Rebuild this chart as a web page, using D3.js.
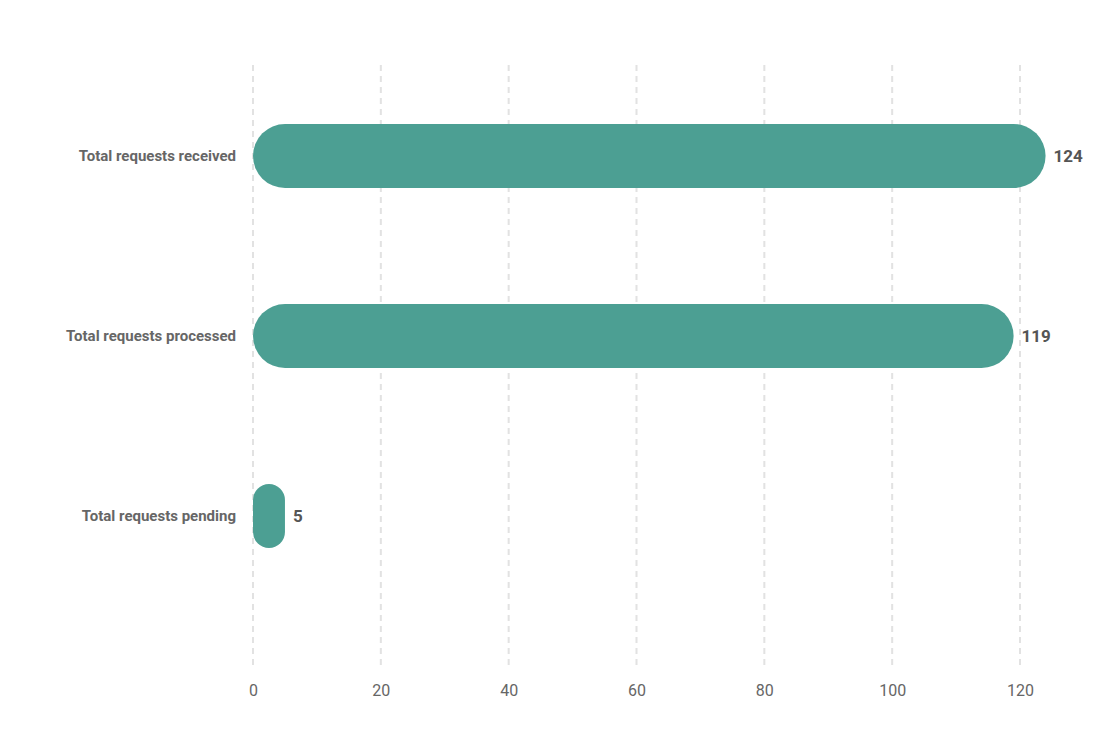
<!DOCTYPE html>
<html>
<head>
<meta charset="utf-8">
<script src="https://cdn.jsdelivr.net/npm/d3@7"></script>
<style>
  body { margin: 0; background: #fff; font-family: Roboto, sans-serif; }
</style>
</head>
<body>
<div id="chart"></div>
<script>
const categories = ["Total requests received", "Total requests processed", "Total requests pending"];
const values = [124, 119, 5];
const ticks = [0, 20, 40, 60, 80, 100, 120];

const width = 1117, height = 740;
const plotLeft = 253, plotRight = 1020, plotTop = 66, gridBottom = 665;

const svg = d3.select("#chart").append("svg")
    .attr("width", width)
    .attr("height", height);

const x = d3.scaleLinear().domain([0, 120]).range([plotLeft, plotRight]);
const y = d3.scaleBand().domain(categories).range([plotTop, plotTop + 540]).paddingInner(0.644).paddingOuter(0.322);

// grid lines
svg.append("g")
    .selectAll("line")
    .data(ticks)
    .enter()
    .append("line")
    .attr("x1", d => x(d)).attr("x2", d => x(d))
    .attr("y1", 65).attr("y2", gridBottom)
    .attr("stroke", "#e2e2e2")
    .attr("stroke-width", 2)
    .attr("stroke-dasharray", "6,5");

// x axis labels
svg.append("g")
    .attr("transform", "translate(0," + 690 + ")")
    .call(d3.axisBottom(x).tickValues(ticks).tickSize(0).tickPadding(0))
    .call(g => g.select(".domain").remove())
    .selectAll("text")
    .attr("font-family", "Roboto, sans-serif")
    .attr("font-size", 16)
    .attr("fill", "#666")
    .attr("dy", "0.35em");

// bars
const bh = y.bandwidth();
svg.append("g")
    .selectAll("rect")
    .data(values)
    .enter()
    .append("rect")
    .attr("x", x(0))
    .attr("y", (d, i) => y(categories[i]))
    .attr("width", d => x(d) - x(0))
    .attr("height", bh)
    .attr("rx", d => Math.min(bh / 2, (x(d) - x(0)) / 2))
    .attr("fill", "#4c9f93");

// value labels
svg.append("g")
    .selectAll("text")
    .data(values)
    .enter()
    .append("text")
    .attr("x", d => x(d) + 8)
    .attr("y", (d, i) => y(categories[i]) + bh / 2)
    .attr("dy", "0.35em")
    .attr("font-size", 17)
    .attr("font-weight", "bold")
    .attr("fill", "#555")
    .text(d => d);

// category labels
svg.append("g")
    .selectAll("text")
    .data(categories)
    .enter()
    .append("text")
    .attr("x", 236)
    .attr("y", d => y(d) + bh / 2)
    .attr("dy", "0.35em")
    .attr("text-anchor", "end")
    .attr("font-size", 15)
    .attr("font-weight", "bold")
    .attr("fill", "#666")
    .text(d => d);
</script>
</body>
</html>
